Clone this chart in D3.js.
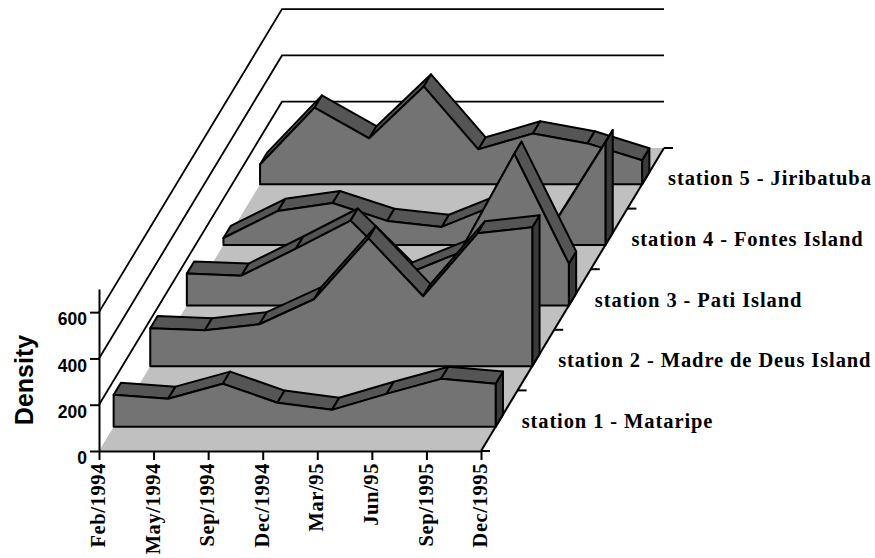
<!DOCTYPE html>
<html><head><meta charset="utf-8">
<script src="https://cdn.jsdelivr.net/npm/d3@7"></script>
<style>html,body{margin:0;padding:0;background:#fff}svg{display:block}</style>
</head><body><svg id="c" width="875" height="558"></svg>
<script>
const categories = ["Feb/1994","May/1994","Sep/1994","Dec/1994","Mar/95","Jun/95","Sep/1995","Dec/1995"];
const stations = ["station 1 - Mataripe","station 2 - Madre de Deus Island","station 3 - Pati Island","station 4 - Fontes Island","station 5 - Jiribatuba"];
const station1 = [138,121,186,104,73,142,207,186];
const station2 = [164,155,181,289,552,302,574,600];
const station3 = [138,129,246,367,134,229,656,181];
const station4 = [30,147,181,104,78,173,69,444];
const station5 = [86,332,199,423,151,220,177,104];
const seriesValues = [station1,station2,station3,station4,station5];
const yTicks = [0,200,400,600];
const yTitle = "Density";

const X0=99, Y0=451;
const svg=d3.select("#c");
const x=d3.scalePoint().domain(categories).range([0,382]);
const y=d3.scaleLinear().domain([0,700]).range([0,-162]);
const depth=d3.scaleBand().domain(stations).range([0,1]).paddingInner(0.8).paddingOuter(0.4);
const dx=d3.scaleLinear().domain([0,1]).range([0,183]);
const dy=d3.scaleLinear().domain([0,1]).range([0,-303]);
const P=(c,v,d)=>[X0+x(c)+dx(d),Y0+y(v)+dy(d)];
const line=d3.line();
const xMax=categories[categories.length-1];
const C={floor:"#c0c0c0",front:"#737373",top:"#555555",side:"#3a3a3a",ink:"#000"};

svg.append("path").attr("d",line([P(categories[0],0,0),P(xMax,0,0),P(xMax,0,1),P(categories[0],0,1)])+"Z").attr("fill",C.floor);
svg.append("path").attr("d",line([P(xMax,0,0),P(xMax,0,1)])).attr("stroke",C.ink).attr("stroke-width",2).attr("fill","none");
yTicks.slice(1).forEach(t=>{
  svg.append("path").attr("d",line([P(categories[0],t,0),P(categories[0],t,1),P(xMax,t,1)]))
    .attr("fill","none").attr("stroke",C.ink).attr("stroke-width",1.8);
});
d3.range(0,6).forEach(k=>{
  const p=P(xMax,0,k/5);
  svg.append("line").attr("x1",p[0]).attr("x2",p[0]+9).attr("y1",p[1]).attr("y2",p[1]).attr("stroke",C.ink).attr("stroke-width",2);
});
stations.map((s,i)=>({s,vals:seriesValues[i]})).reverse().forEach(({s,vals})=>{
  const d0=depth(s), d1=d0+depth.bandwidth();
  const g=svg.append("g").attr("stroke",C.ink).attr("stroke-width",2).attr("stroke-linejoin","round");
  g.append("path").attr("d",line([P(xMax,vals[7],d0),P(xMax,vals[7],d1),P(xMax,0,d1),P(xMax,0,d0)])+"Z").attr("fill",C.side);
  d3.pairs(categories.map((c,i)=>[c,vals[i]])).forEach(([a,b])=>{
    g.append("path").attr("d",line([P(a[0],a[1],d0),P(a[0],a[1],d1),P(b[0],b[1],d1),P(b[0],b[1],d0)])+"Z").attr("fill",C.top);
  });
  const pts=[P(categories[0],0,d0),...categories.map((c,i)=>P(c,vals[i],d0)),P(xMax,0,d0)];
  g.append("path").attr("d",line(pts)+"Z").attr("fill",C.front);
  const lp=P(xMax,0,d0);
  svg.append("text").attr("x",lp[0]+26).attr("y",lp[1]+1).attr("font-family","'Liberation Serif',serif")
    .attr("font-weight","bold").attr("font-size",20.5).attr("letter-spacing",0.9).attr("fill",C.ink).text(s);
});
const gx=svg.append("g").attr("transform",`translate(${X0},${Y0})`).call(d3.axisBottom(x).tickSize(9).tickSizeOuter(0));
gx.selectAll("path,line").attr("stroke",C.ink).attr("stroke-width",2);
gx.selectAll("text").attr("font-family","'Liberation Serif',serif").attr("font-weight","bold").attr("font-size",20.5).attr("letter-spacing",0.6).attr("fill",C.ink)
  .attr("transform","rotate(-90)").attr("text-anchor","end").attr("x",-12).attr("y",-1.5).attr("dy","0.35em");
const gy=svg.append("g").attr("transform",`translate(${X0},${Y0})`).call(d3.axisLeft(y).tickValues(yTicks).tickFormat(d3.format("d")).tickSize(9).tickSizeOuter(0));
gy.selectAll("path,line").attr("stroke",C.ink).attr("stroke-width",2);
gy.selectAll("text").attr("font-family","'Liberation Sans',Arial,sans-serif").attr("font-weight","bold").attr("font-size",17.5).attr("fill",C.ink).attr("x",-12).attr("y",7);
svg.append("text").attr("transform","translate(33,380) rotate(-90)").attr("text-anchor","middle")
  .attr("font-family","'Liberation Sans',Arial,sans-serif").attr("font-weight","bold").attr("font-size",25).attr("fill",C.ink).text(yTitle);
</script></body></html>
